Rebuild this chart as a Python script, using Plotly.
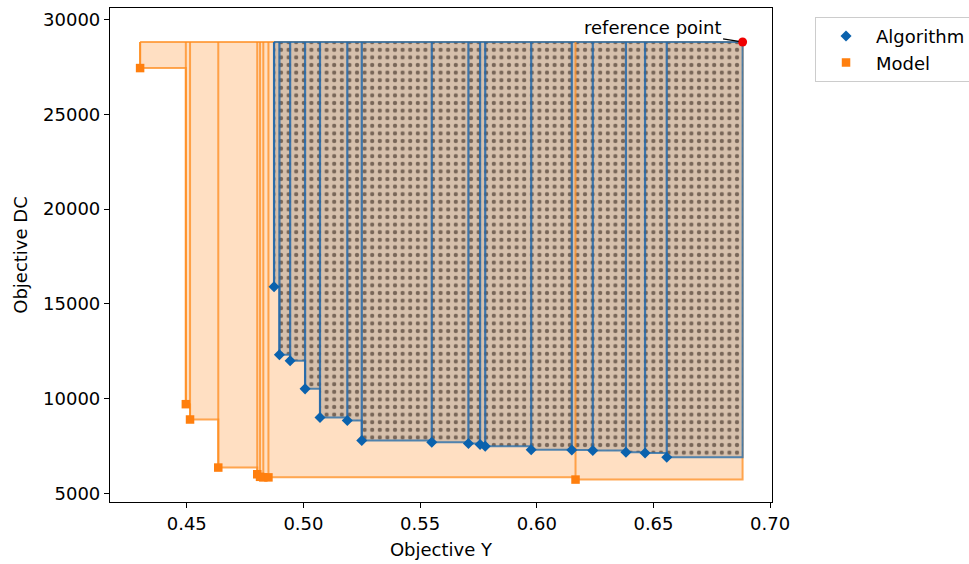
import plotly.graph_objects as go

# Data
alg_x = [0.4874, 0.4897, 0.4943, 0.5007, 0.5071, 0.5188, 0.5250, 0.5550, 0.5707,
         0.5757, 0.5779, 0.5976, 0.6150, 0.6240, 0.6382, 0.6464, 0.6557]
alg_y = [15904, 12310, 11993, 10513, 9001, 8843, 7785, 7696, 7627,
         7574, 7484, 7299, 7289, 7257, 7167, 7130, 6903]

mod_x = [0.4300, 0.4496, 0.4514, 0.4635, 0.4802, 0.4814, 0.4828, 0.4850, 0.6166]
mod_y = [27447, 9704, 8895, 6358, 6004, 5870, 5840, 5840, 5724]

ref_x = 0.6882
ref_y = 28821

x_ticks = [0.45, 0.50, 0.55, 0.60, 0.65, 0.70]
y_ticks = [5000, 10000, 15000, 20000, 25000, 30000]

FONT = "DejaVu Sans"
FS = 18


def staircase(xs, ys, rx, ry):
    px = [xs[0]]
    py = [ry]
    for i in range(len(xs)):
        px.append(xs[i]); py.append(ys[i])
        nx = xs[i + 1] if i + 1 < len(xs) else rx
        px.append(nx); py.append(ys[i])
    px.append(rx); py.append(ry)
    px.append(xs[0]); py.append(ry)
    return px, py


def verticals(xs, ys, ry):
    vx, vy = [], []
    for x, y in zip(xs, ys):
        vx += [x, x, None]
        vy += [y, ry, None]
    return vx, vy


fig = go.Figure()

# Model region
mpx, mpy = staircase(mod_x, mod_y, ref_x, ref_y)
fig.add_trace(go.Scatter(x=mpx, y=mpy, mode="lines", fill="toself",
                         fillcolor="#ffdfc2", line=dict(color="rgba(255,140,30,0.75)", width=2),
                         showlegend=False, hoverinfo="skip"))

# Algorithm region with dot hatch
apx, apy = staircase(alg_x, alg_y, ref_x, ref_y)
fig.add_trace(go.Scatter(x=apx, y=apy, mode="lines", fill="toself",
                         fillcolor="#d6c0ac",
                         fillpattern=dict(shape=".", size=7.6, solidity=0.25,
                                          fgcolor="#1a0c04", bgcolor="#d6c0ac"),
                         line=dict(color="rgba(40,110,170,0.8)", width=2),
                         showlegend=False, hoverinfo="skip"))

# Model vertical lines
mvx, mvy = verticals(mod_x, mod_y, ref_y)
fig.add_trace(go.Scatter(x=mvx, y=mvy, mode="lines",
                         line=dict(color="rgba(255,140,30,0.75)", width=2),
                         showlegend=False, hoverinfo="skip"))

# Algorithm vertical lines
avx, avy = verticals(alg_x, alg_y, ref_y)
fig.add_trace(go.Scatter(x=avx, y=avy, mode="lines",
                         line=dict(color="rgba(35,105,170,0.85)", width=2.2),
                         showlegend=False, hoverinfo="skip"))

# Markers
fig.add_trace(go.Scatter(x=alg_x, y=alg_y, mode="markers", name="Algorithm",
                         marker=dict(symbol="diamond", size=8.5, color="#0b62ad"),
                         showlegend=True))
fig.add_trace(go.Scatter(x=mod_x, y=mod_y, mode="markers", name="Model",
                         marker=dict(symbol="square", size=8.5, color="#ff7f0e"),
                         showlegend=True))

# Reference point
fig.add_trace(go.Scatter(x=[ref_x], y=[ref_y], mode="markers",
                         marker=dict(symbol="circle", size=9, color="#f00000"),
                         showlegend=False))

fig.add_annotation(x=ref_x, y=ref_y, text="reference point", showarrow=True,
                   arrowhead=0, arrowwidth=1.3, arrowcolor="black",
                   ax=-90, ay=-15, standoff=4,
                   font=dict(family=FONT, size=FS, color="black"))

axis_common = dict(showline=True, linecolor="black", linewidth=1.2, mirror=True,
                   ticks="outside", ticklen=5, tickcolor="black", tickwidth=1.2,
                   showgrid=False, zeroline=False,
                   tickfont=dict(family=FONT, size=FS, color="black"))

fig.update_xaxes(range=[0.4171, 0.7008], tickvals=x_ticks,
                 ticktext=[f"{v:.2f}" for v in x_ticks],
                 title=dict(text="Objective Y", font=dict(family=FONT, size=FS, color="black"),
                            standoff=10),
                 **axis_common)
fig.update_yaxes(range=[4540, 30618], tickvals=y_ticks,
                 ticktext=[str(v) for v in y_ticks],
                 title=dict(text="Objective DC", font=dict(family=FONT, size=FS, color="black"),
                            standoff=10),
                 **axis_common)

fig.update_layout(
    width=969, height=564,
    margin=dict(l=110, r=197, t=8, b=62, autoexpand=False),
    plot_bgcolor="white", paper_bgcolor="white",
    font=dict(family=FONT, size=FS, color="black"),
    legend=dict(x=1.065, y=0.982, xanchor="left", yanchor="top",
                bgcolor="white", bordercolor="#cccccc", borderwidth=1,
                font=dict(family=FONT, size=FS, color="black"),
                itemwidth=50),
)

fig.write_html("out.html")
